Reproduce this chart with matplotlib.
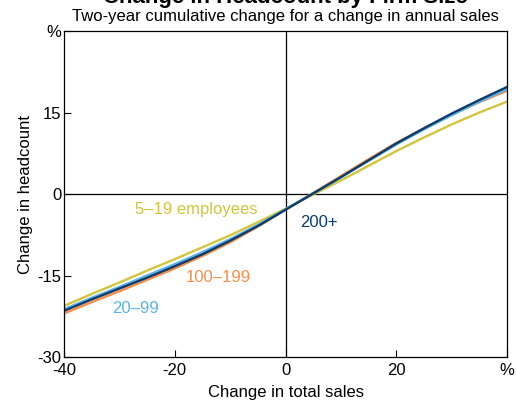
import matplotlib.pyplot as plt
import numpy as np

plt.rcParams['font.family'] = ['Liberation Sans', 'DejaVu Sans']

sales = np.array([-40, -35, -30, -25, -20, -15, -10, -5, 0, 5, 10, 15, 20, 25, 30, 35, 40])

# headcount response by firm size, %
emp_5_19 = [-20.6, -18.4, -16.3, -14.1, -12.0, -9.8, -7.6, -5.2, -2.7, -0.1, 2.5, 5.2, 7.9, 10.4, 12.8, 15.0, 17.0]
emp_20_99 = [-21.2, -19.1, -17.1, -15.0, -12.9, -10.7, -8.3, -5.7, -2.8, 0.1, 3.1, 6.1, 9.1, 11.9, 14.5, 17.0, 19.3]
emp_100_199 = [-22.0, -19.9, -17.9, -15.8, -13.7, -11.4, -8.9, -6.0, -2.9, 0.2, 3.3, 6.4, 9.4, 12.1, 14.6, 16.9, 19.0]
emp_200 = [-21.5, -19.4, -17.4, -15.4, -13.3, -11.1, -8.6, -5.9, -2.9, 0.1, 3.1, 6.2, 9.3, 12.1, 14.8, 17.3, 19.7]

xticks = [-40, -20, 0, 20, 40]
xticklabels = ['-40', '-20', '0', '20', '%']
yticks = [-30, -15, 0, 15, 30]
yticklabels = ['-30', '-15', '0', '15', '%']

yellow = '#d2c43c'
light_blue = '#5ab4e6'
orange = '#f98d48'
dark_blue = '#0c3b6c'

fig = plt.figure(figsize=(5.16, 4.01), dpi=100)
ax = fig.add_axes([0.124, 0.1097, 0.8586, 0.813])

ax.axhline(0, color='black', lw=0.9)
ax.axvline(0, color='black', lw=0.9)

ax.plot(sales, emp_5_19, color=yellow, lw=1.7)
ax.plot(sales, emp_100_199, color=orange, lw=1.7)
ax.plot(sales, emp_20_99, color=light_blue, lw=1.7)
ax.plot(sales, emp_200, color=dark_blue, lw=1.7)

ax.text(-16.2, -2.9, '5–19 employees', color=yellow, fontsize=12, ha='center', va='center')
ax.text(6.0, -5.2, '200+', color=dark_blue, fontsize=12, ha='center', va='center')
ax.text(-12.1, -15.3, '100–199', color=orange, fontsize=12, ha='center', va='center')
ax.text(-27.0, -21.0, '20–99', color=light_blue, fontsize=12, ha='center', va='center')

ax.set_xlim(-40, 40)
ax.set_ylim(-30, 30)
ax.set_xticks(xticks)
ax.set_xticklabels(xticklabels)
ax.set_yticks(yticks)
ax.set_yticklabels(yticklabels)
ax.tick_params(direction='in', length=5, width=0.8, labelsize=12)
ax.tick_params(axis='x', pad=4)
ax.tick_params(axis='y', pad=2)
for s in ax.spines.values():
    s.set_linewidth(0.9)

ax.set_xlabel('Change in total sales', fontsize=12, labelpad=5)
ax.set_ylabel('Change in headcount', fontsize=12, labelpad=3)

xc = 0.124 + 0.8586 / 2
fig.text(xc, (401 - 3) / 401, 'Change in Headcount by Firm Size', fontsize=16,
         fontweight='bold', ha='center', va='baseline')
fig.text(xc, (401 - 17) / 401, 'Two-year cumulative change for a change in annual sales',
         fontsize=12, ha='center', va='center')

plt.savefig('out.png', dpi=100)
